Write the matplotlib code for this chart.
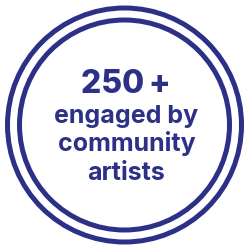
import matplotlib.pyplot as plt
from matplotlib.patches import Circle

# badge content
headline = "250\u2009+"
caption_lines = ["engaged by", "community", "artists"]
ring_radii = [117, 105]

navy = "#2c3187"

fig = plt.figure(figsize=(2.46, 2.48), dpi=100)
ax = fig.add_axes([0, 0, 1, 1])
ax.set_xlim(0, 246)
ax.set_ylim(248, 0)
ax.set_aspect("equal")
ax.axis("off")

cx, cy = 124.5, 125
for r in ring_radii:
    ax.add_patch(Circle((cx, cy), r, fill=False, edgecolor=navy, linewidth=3.6))

ax.text(cx + 1, 93, headline, ha="center", va="baseline", color=navy,
        fontsize=23, fontweight="heavy", family="Inter")

baselines = [123, 151.5, 180]
for line, y in zip(caption_lines, baselines):
    ax.text(cx + 2, y, line, ha="center", va="baseline", color=navy,
            fontsize=18, fontweight="bold", family="Inter")

fig.savefig("out.png", dpi=100, facecolor="white")
